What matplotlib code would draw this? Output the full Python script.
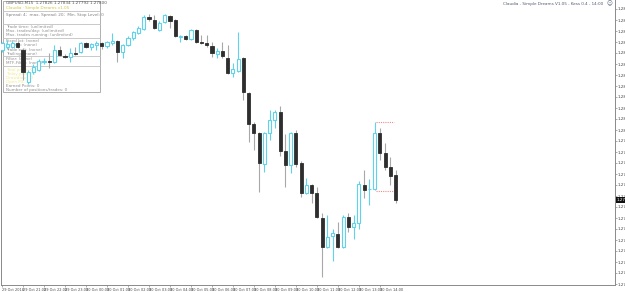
import matplotlib
matplotlib.use("Agg")
import matplotlib.pyplot as plt
import numpy as np
from matplotlib.patches import Rectangle

# GBPUSD M15 candles
opens = [1.28250, 1.28259, 1.28259, 1.28271, 1.28250, 1.28154, 1.28184, 1.28190, 1.28214, 1.28217,
         1.28214, 1.28250, 1.28232, 1.28229, 1.28241, 1.28244, 1.28271, 1.28259, 1.28265, 1.28271,
         1.28262, 1.28271, 1.28277, 1.28244, 1.28265, 1.28286, 1.28301, 1.28313, 1.28349, 1.28340,
         1.28310, 1.28334, 1.28352, 1.28340, 1.28289, 1.28292, 1.28283, 1.28310, 1.28274, 1.28271,
         1.28262, 1.28238, 1.28247, 1.28226, 1.28181, 1.28187, 1.28226, 1.28121, 1.28028, 1.28001,
         1.27908, 1.28001, 1.28040, 1.28064, 1.27947, 1.27905, 1.28001, 1.27911, 1.27821, 1.27845,
         1.27821, 1.27746, 1.27659, 1.27692, 1.27698, 1.27659, 1.27749, 1.27719, 1.27731, 1.27845,
         1.27832, 1.27833, 1.28001, 1.27941, 1.27899, 1.27875]
highs = [1.28274, 1.28280, 1.28277, 1.28277, 1.28256, 1.28190, 1.28208, 1.28223, 1.28226, 1.28241,
         1.28265, 1.28262, 1.28238, 1.28256, 1.28259, 1.28274, 1.28274, 1.28271, 1.28277, 1.28274,
         1.28277, 1.28301, 1.28280, 1.28268, 1.28292, 1.28307, 1.28322, 1.28355, 1.28358, 1.28355,
         1.28337, 1.28358, 1.28355, 1.28343, 1.28295, 1.28295, 1.28313, 1.28313, 1.28295, 1.28295,
         1.28274, 1.28256, 1.28274, 1.28265, 1.28211, 1.28304, 1.28229, 1.28124, 1.28034, 1.28004,
         1.28004, 1.28070, 1.28070, 1.28082, 1.27998, 1.28004, 1.28010, 1.27917, 1.27866, 1.27848,
         1.27839, 1.27761, 1.27755, 1.27713, 1.27734, 1.27755, 1.27761, 1.27755, 1.27857, 1.27890,
         1.27863, 1.28034, 1.28016, 1.27971, 1.27929, 1.27890]
lows = [1.28244, 1.28253, 1.28256, 1.28256, 1.28160, 1.28148, 1.28178, 1.28187, 1.28208, 1.28196,
        1.28212, 1.28232, 1.28226, 1.28214, 1.28235, 1.28241, 1.28256, 1.28250, 1.28250, 1.28253,
        1.28256, 1.28265, 1.28214, 1.28226, 1.28262, 1.28280, 1.28298, 1.28310, 1.28337, 1.28313,
        1.28307, 1.28331, 1.28316, 1.28289, 1.28274, 1.28280, 1.28280, 1.28271, 1.28268, 1.28259,
        1.28229, 1.28226, 1.28226, 1.28178, 1.28169, 1.28184, 1.28100, 1.27974, 1.27950, 1.27824,
        1.27884, 1.27980, 1.28016, 1.27932, 1.27839, 1.27881, 1.27899, 1.27809, 1.27818, 1.27791,
        1.27746, 1.27569, 1.27656, 1.27617, 1.27656, 1.27656, 1.27704, 1.27683, 1.27713, 1.27806,
        1.27785, 1.27830, 1.27920, 1.27890, 1.27845, 1.27791]
closes = [1.28271, 1.28268, 1.28271, 1.28259, 1.28184, 1.28184, 1.28199, 1.28217, 1.28217, 1.28215,
          1.28250, 1.28235, 1.28229, 1.28241, 1.28239, 1.28271, 1.28259, 1.28268, 1.28271, 1.28262,
          1.28274, 1.28277, 1.28244, 1.28265, 1.28286, 1.28304, 1.28316, 1.28349, 1.28343, 1.28316,
          1.28331, 1.28355, 1.28337, 1.28292, 1.28292, 1.28283, 1.28310, 1.28274, 1.28272, 1.28265,
          1.28241, 1.28247, 1.28232, 1.28181, 1.28193, 1.28223, 1.28124, 1.28028, 1.28001, 1.27911,
          1.28001, 1.28040, 1.28064, 1.27947, 1.27905, 1.28001, 1.27908, 1.27821, 1.27845, 1.27821,
          1.27749, 1.27659, 1.27689, 1.27701, 1.27659, 1.27749, 1.27719, 1.27731, 1.27848, 1.27830,
          1.27833, 1.28001, 1.27941, 1.27899, 1.27872, 1.27800]

time_labels = ["29 Oct 2018", "29 Oct 21:00", "29 Oct 22:00", "29 Oct 23:00", "30 Oct 00:00",
               "30 Oct 01:00", "30 Oct 02:00", "30 Oct 03:00", "30 Oct 04:00", "30 Oct 05:00",
               "30 Oct 06:00", "30 Oct 07:00", "30 Oct 08:00", "30 Oct 09:00", "30 Oct 10:00",
               "30 Oct 11:00", "30 Oct 12:00", "30 Oct 13:00", "30 Oct 14:00"]
time_ticks = [0, 4, 8, 12, 16, 20, 24, 28, 32, 36, 40, 44, 48, 52, 56, 60, 64, 68, 72]
price_ticks = [1.28373, 1.28340, 1.28307, 1.28274, 1.28241, 1.28208, 1.28175, 1.28142, 1.28109,
               1.28076, 1.28043, 1.28010, 1.27977, 1.27944, 1.27911, 1.27878, 1.27845, 1.27812,
               1.27779, 1.27746, 1.27713, 1.27680, 1.27647, 1.27614, 1.27581, 1.27548]
level_hi, level_lo = 1.28034, 1.27827
level_span = (71.3, 74.6)

CYAN, DARK, WICK, AXC = "#5fd3ea", "#2e2e2e", "#a8a8a8", "#8a8a8a"
FS = 3.0

W, H = 625, 292
fig = plt.figure(figsize=(W / 100, H / 100), dpi=100)
fig.patch.set_facecolor("white")
ax = fig.add_axes([1 / W, 1 - 285 / H, 614 / W, 285 / H])
ax.set_xlim(-0.19, 116.8)
ax.set_ylim(1.27545, 1.28400)

o, h, l, c = map(np.array, (opens, highs, lows, closes))
x = np.arange(len(o))
up = c >= o
dn = ~up
ax.vlines(x[up], l[up], h[up], color=CYAN, lw=0.8, zorder=3)
ax.vlines(x[dn], l[dn], h[dn], color=WICK, lw=0.8, zorder=3)
ax.bar(x[up], (c - o)[up], bottom=o[up], width=0.6, facecolor="white", edgecolor=CYAN, lw=0.8, zorder=4)
ax.bar(x[dn], (c - o)[dn], bottom=o[dn], width=0.6, facecolor=DARK, edgecolor=DARK, lw=0.6, zorder=4)

ax.hlines([level_hi, level_lo], *level_span, colors="#f08a8a", linestyles=(0, (1, 1)), lw=0.8, zorder=2)

# axes styling
ax.spines["top"].set_visible(False)
for s in ("left", "right", "bottom"):
    ax.spines[s].set_color(AXC)
    ax.spines[s].set_linewidth(0.7)
ax.yaxis.tick_right()
ax.set_yticks(price_ticks)
ax.set_yticklabels([f"{p:.5f}" for p in price_ticks])
ax.set_xticks(time_ticks)
ax.set_xticklabels(time_labels, ha="left")
ax.tick_params(axis="both", colors="#444444", length=1.5, width=0.5, pad=0.6)
ax.tick_params(axis="y", labelsize=FS, color=AXC)
ax.tick_params(axis="x", labelsize=2.5, color=AXC)

# current price marker
ax.annotate(f"{closes[-1]:.5f}", xy=(1.0, closes[-1]), xycoords=("axes fraction", "data"),
            xytext=(1.2, 0), textcoords="offset points", ha="left", va="center", fontsize=FS,
            color="white", bbox=dict(boxstyle="square,pad=0.2", fc="#111111", ec="none"),
            annotation_clip=False, zorder=6)


def fx(px):
    return px / W


def fy(py):
    return 1 - py / H


# info panel
ft = fig.transFigure
ax.add_patch(Rectangle((fx(3), fy(92)), fx(97), 91 / H, transform=ft, facecolor="white",
                       edgecolor="#b0b0b0", lw=0.7, zorder=1))
for yy in (11, 23.5, 38, 56, 66):
    ax.plot([fx(3), fx(100)], [fy(yy), fy(yy)], transform=ft, color="#c0c0c0", lw=0.6, zorder=1)

panel_lines = [
    (3.5, "GBPUSD,M15  1.27826 1.27834 1.27792 1.27800", "#555555"),
    (7.5, "Claudia \u00b7 Simple Dreams v1.05", "#d2c640"),
    (15, "Spread: 4;  max. Spread: 20;  Min. Stop Level: 0", "#808080"),
    (27, "Trade time: (unlimited)", "#909090"),
    (31, "Max. trades/day: (unlimited)", "#909090"),
    (35, "Max. trades running: (unlimited)", "#909090"),
    (41.5, "Fixed lot: (none)", "#909090"),
    (45.5, "Lot risk: (none)", "#909090"),
    (49.5, "Trade exit: (none)", "#909090"),
    (53.5, "Trailing: (none)", "#909090"),
    (59.5, "Filter: (none)", "#909090"),
    (63.5, "MTF-Filter: (none)", "#909090"),
    (70, "Total profit: 0", "#f2ea90"),
    (74, "Today profit: 0", "#f2ea90"),
    (78, "Drawdown: 0", "#f2ea90"),
    (82, "Open P/L: 0", "#f2ea90"),
    (86, "Earned Points: 0", "#909090"),
    (90, "Number of positions/trades: 0", "#909090"),
]
for yy, txt, col in panel_lines:
    ax.text(fx(6), fy(yy), txt, transform=ft, fontsize=FS, color=col, va="center", ha="left", zorder=2)

ax.text(fx(603), fy(3.5), "Claudia - Simple Dreams V1.05 - Kess 0.4 - 14:00", transform=ft,
        fontsize=FS, color="#505a70", ha="right", va="center", zorder=5)
ax.text(fx(609), fy(3.5), "\u263a", transform=ft, fontsize=4, color="#505a70", ha="center",
        va="center", zorder=5)

fig.savefig("out.png", dpi=100, facecolor="white")
